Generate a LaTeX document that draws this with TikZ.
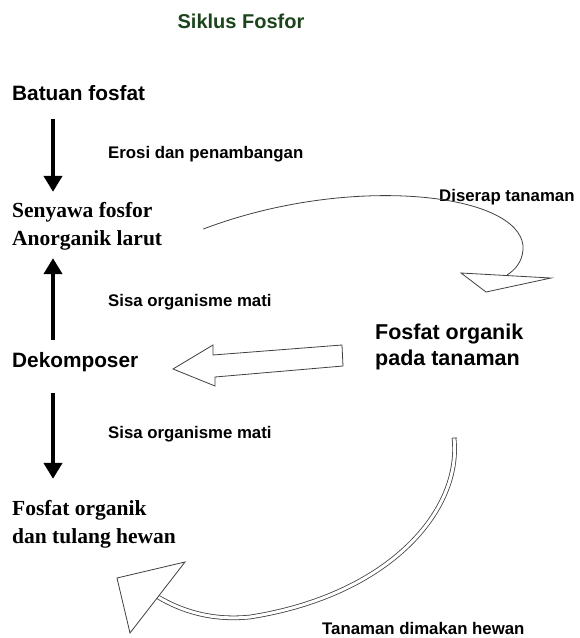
\documentclass[tikz,border=0pt]{standalone}
\usepackage{fontspec}
\setmainfont{Liberation Serif}
\setsansfont{Liberation Sans}
\usetikzlibrary{calc}
\usetikzlibrary{arrows.meta}
\definecolor{hijaujudul}{RGB}{28,68,28}

\begin{document}
\begin{tikzpicture}[x=1pt, y=-1pt,
  lbl/.style={font=\sffamily\bfseries\fontsize{16.8}{19}\selectfont, anchor=west, inner sep=0},
  tebal/.style={font=\sffamily\bfseries\fontsize{20.8}{26}\selectfont, anchor=west, inner sep=0, align=left},
  serif/.style={font=\rmfamily\bfseries\fontsize{21.5}{28}\selectfont, anchor=west, inner sep=0, align=left},
  panah/.style={line width=4.8pt, -{Triangle[width=18pt,length=16pt]}},
  garis/.style={draw=black!75, line width=0.8pt}]
\useasboundingbox (0,0) rectangle (580,638);
\node[font=\sffamily\bfseries\fontsize{20}{22}\selectfont, text=hijaujudul, inner sep=0] (judul) at (241,21) {Siklus Fosfor};
\coordinate (kiri) at (53,0);
\node[tebal] (batuan) at (12,93) {Batuan fosfat};
\node[serif] (senyawa) at (12,226) {Senyawa fosfor\\Anorganik larut};
\node[tebal] (dekomposer) at (12,362) {Dekomposer};
\node[serif] (hewan) at (12,524) {Fosfat organik\\dan tulang hewan};
\node[tebal, font=\sffamily\bfseries\fontsize{21.5}{26}\selectfont] (tanaman) at (375,347) {Fosfat organik\\pada tanaman};
\node[lbl] (erosi) at (108,154) {Erosi dan penambangan};
\node[lbl] (sisaatas) at (108,302) {Sisa organisme mati};
\node[lbl] (sisabawah) at (108,434) {Sisa organisme mati};
\node[lbl] (diserap) at (439,197) {Diserap tanaman};
\node[lbl] (dimakan) at (322,628) {Tanaman dimakan hewan};
\draw[panah, shorten <=18pt, shorten >=10pt] (batuan.south -| kiri) -- (senyawa.north -| kiri);
\draw[panah, shorten <=12pt, shorten >=8pt] (dekomposer.north -| kiri) -- (senyawa.south -| kiri);
\draw[panah, shorten <=21pt, shorten >=21pt] (dekomposer.south -| kiri) -- (hewan.north -| kiri);
\coordinate (ujungA) at (507,275);
\draw[garis] ($(senyawa.east)+(41,3)$) .. controls (280,200) and (360,192) .. (420,197)
  .. controls (490,203) and (525,225) .. (523,250) .. controls (522,262) and (515,270) .. (ujungA);
\draw[garis, fill=white] ($(ujungA)+(-46,-2)$) -- ($(ujungA)+(44,3)$) -- ($(ujungA)+(-21,17)$) -- cycle;
\draw[garis, fill=white] (342,345) -- (213,355) -- (213,345) -- (173,369) -- (215,386) -- (215,377) -- (343,366) -- cycle;
\coordinate (ujungB) at (158,597);
\draw[garis, double=white, double distance=3pt] (454,438) .. controls (462,510) and (390,595) .. (250,617)
  .. controls (210,621) and (180,610) .. (ujungB);
\draw[garis] (452.4,437.9) -- (457.2,438.1);
\draw[garis, fill=white] ($(ujungB)+(27,-35)$) -- ($(ujungB)+(-41,-19)$) -- ($(ujungB)+(-28,36)$) -- cycle;
\end{tikzpicture}
\end{document}
